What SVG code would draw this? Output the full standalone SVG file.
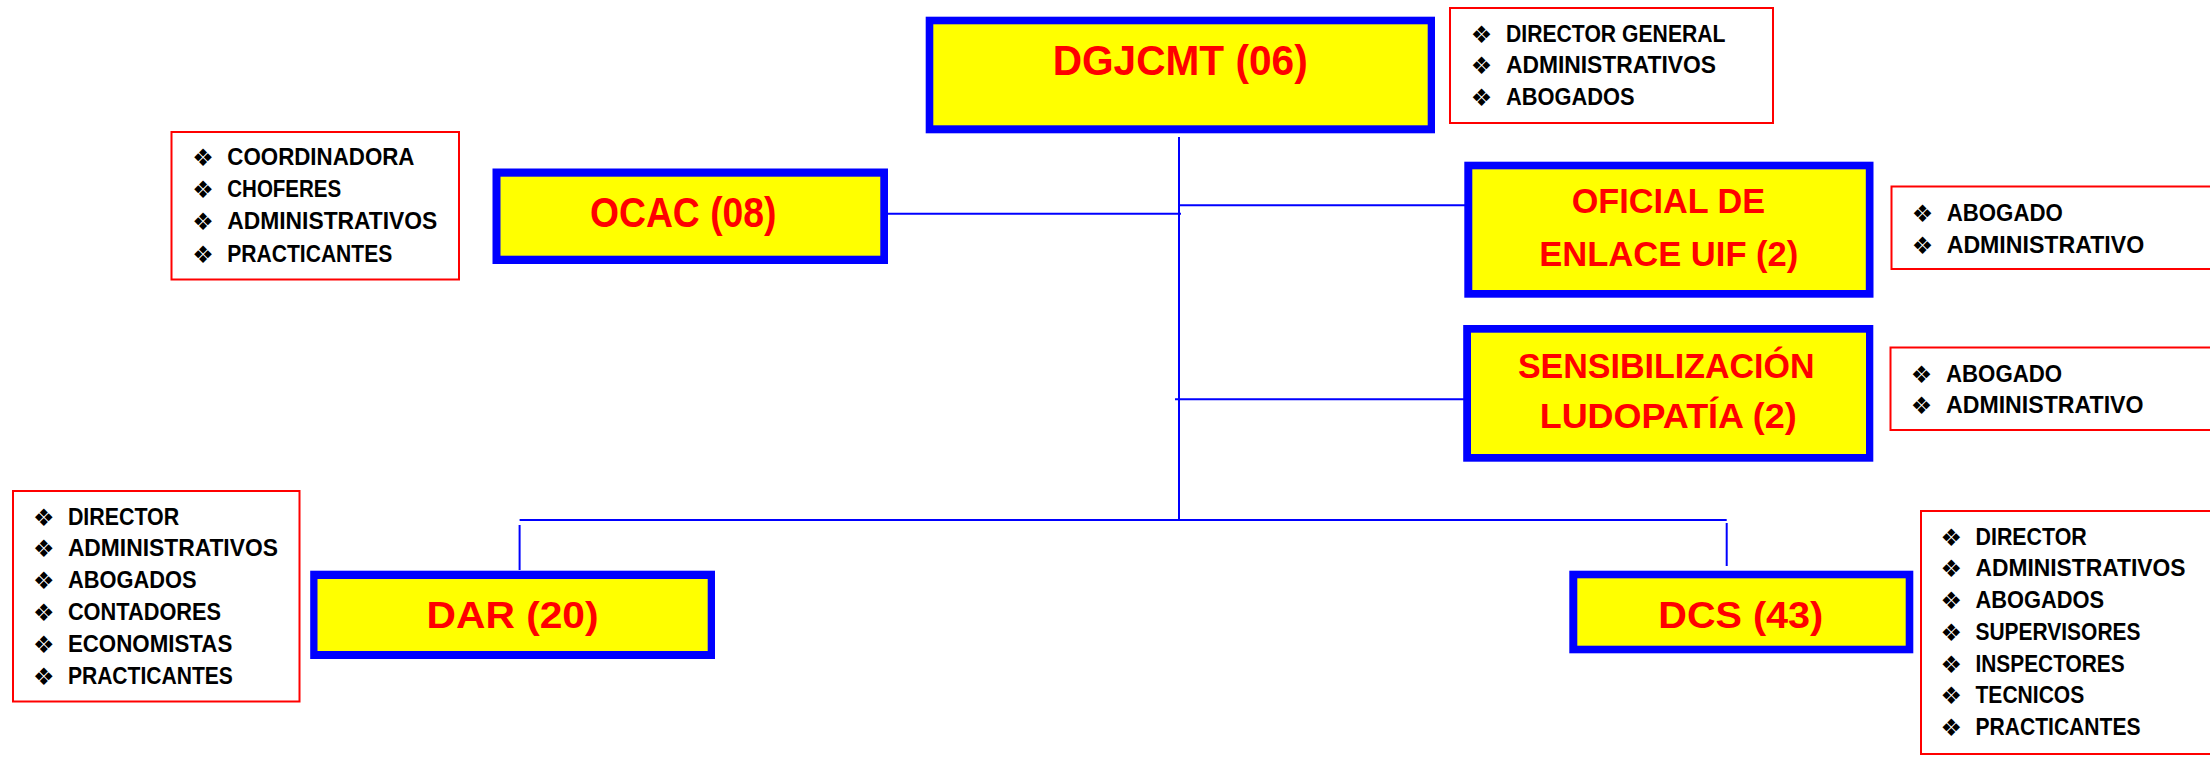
<svg xmlns="http://www.w3.org/2000/svg" width="2210" height="758" viewBox="0 0 2210 758">
<style>
.frame{fill:#0000FF}
.fill{fill:#FFFF00}
.title{font-family:"Liberation Sans",Arial,sans-serif;font-weight:bold;fill:#FF0000}
.t42{font-size:42px}
.t37{font-size:37px}
.t36{font-size:35.5px}
.list{fill:#FFFFFF;stroke:#FF0000;stroke-width:2}
.item{font-family:"Liberation Sans",Arial,sans-serif;font-weight:bold;font-size:23px;fill:#000000}
.bul{font-family:"DejaVu Sans",sans-serif;font-size:24px;fill:#000000}
.conn{stroke:#0000FF;stroke-width:2;fill:none}
</style>
<rect width="2210" height="758" fill="#FFFFFF"/>
<g id="connectors">
<line class="conn" x1="1179" y1="137" x2="1179" y2="521"/>
<line class="conn" x1="887" y1="213.7" x2="1181" y2="213.7"/>
<line class="conn" x1="1179" y1="205.3" x2="1474" y2="205.3"/>
<line class="conn" x1="1175" y1="399.3" x2="1466" y2="399.3"/>
<line class="conn" x1="519.6" y1="520" x2="1726.7" y2="520"/>
<line class="conn" x1="519.6" y1="525" x2="519.6" y2="570"/>
<line class="conn" x1="1726.7" y1="523" x2="1726.7" y2="566"/>
</g>
<g id="dgjcmt">
<rect class="frame" x="925.7" y="16.7" width="509.3" height="116.6"/>
<rect class="fill" x="933.3" y="24.3" width="494.4" height="101"/>
<text class="title t42" x="1052.7" y="75" textLength="255" lengthAdjust="spacingAndGlyphs">DGJCMT (06)</text>
</g>
<g id="dgjcmt-staff">
<rect class="list" x="1450" y="8" width="323" height="115"/>
<text class="bul" x="1470.7" y="42.5">❖</text><text class="item" x="1506" y="41.7" textLength="219.5" lengthAdjust="spacingAndGlyphs">DIRECTOR GENERAL</text>
<text class="bul" x="1470.7" y="74.1">❖</text><text class="item" x="1506" y="73.3" textLength="210" lengthAdjust="spacingAndGlyphs">ADMINISTRATIVOS</text>
<text class="bul" x="1470.7" y="105.8">❖</text><text class="item" x="1506" y="105" textLength="128.6" lengthAdjust="spacingAndGlyphs">ABOGADOS</text>
</g>
<g id="ocac">
<rect class="frame" x="492.5" y="168.5" width="395.5" height="95.5"/>
<rect class="fill" x="500.5" y="176.7" width="379.8" height="79"/>
<text class="title t42" x="590" y="227.3" textLength="186.5" lengthAdjust="spacingAndGlyphs">OCAC (08)</text>
</g>
<g id="ocac-staff">
<rect class="list" x="171.5" y="132" width="287.5" height="147.5"/>
<text class="bul" x="192.3" y="165.8">❖</text><text class="item" x="227.3" y="165" textLength="187.2" lengthAdjust="spacingAndGlyphs">COORDINADORA</text>
<text class="bul" x="192.3" y="198.1">❖</text><text class="item" x="227.3" y="197.3" textLength="113.9" lengthAdjust="spacingAndGlyphs">CHOFERES</text>
<text class="bul" x="192.3" y="230.1">❖</text><text class="item" x="227.3" y="229.3" textLength="210" lengthAdjust="spacingAndGlyphs">ADMINISTRATIVOS</text>
<text class="bul" x="192.3" y="262.5">❖</text><text class="item" x="227.3" y="261.7" textLength="165" lengthAdjust="spacingAndGlyphs">PRACTICANTES</text>
</g>
<g id="oficial-enlace">
<rect class="frame" x="1464.3" y="161.7" width="409.2" height="136"/>
<rect class="fill" x="1472.3" y="169.3" width="393.5" height="120.7"/>
<text class="title t36" x="1571.7" y="213.3" textLength="193.3" lengthAdjust="spacingAndGlyphs">OFICIAL DE</text>
<text class="title t36" x="1539.3" y="265.7" textLength="259" lengthAdjust="spacingAndGlyphs">ENLACE UIF (2)</text>
</g>
<g id="oficial-enlace-staff">
<rect class="list" x="1891.5" y="186.5" width="325" height="82.5"/>
<text class="bul" x="1911.7" y="221.5">❖</text><text class="item" x="1946.7" y="220.7" textLength="116.1" lengthAdjust="spacingAndGlyphs">ABOGADO</text>
<text class="bul" x="1911.7" y="253.5">❖</text><text class="item" x="1946.7" y="252.7" textLength="197.5" lengthAdjust="spacingAndGlyphs">ADMINISTRATIVO</text>
</g>
<g id="sensibilizacion">
<rect class="frame" x="1463.2" y="325" width="410.1" height="136.7"/>
<rect class="fill" x="1471" y="332.7" width="395" height="121.3"/>
<text class="title t36" x="1517.9" y="377.7" textLength="296.6" lengthAdjust="spacingAndGlyphs">SENSIBILIZACIÓN</text>
<text class="title t36" x="1539.7" y="428.3" textLength="257" lengthAdjust="spacingAndGlyphs">LUDOPATÍA (2)</text>
</g>
<g id="sensibilizacion-staff">
<rect class="list" x="1890.5" y="347.5" width="326" height="82.5"/>
<text class="bul" x="1910.7" y="382.5">❖</text><text class="item" x="1946" y="381.7" textLength="116.1" lengthAdjust="spacingAndGlyphs">ABOGADO</text>
<text class="bul" x="1910.7" y="414.1">❖</text><text class="item" x="1946" y="413.3" textLength="197.5" lengthAdjust="spacingAndGlyphs">ADMINISTRATIVO</text>
</g>
<g id="dar">
<rect class="frame" x="310.2" y="570.7" width="404.8" height="88.3"/>
<rect class="fill" x="317.5" y="579" width="390.2" height="72"/>
<text class="title t37" x="426.6" y="628.3" textLength="172" lengthAdjust="spacingAndGlyphs">DAR (20)</text>
</g>
<g id="dar-staff">
<rect class="list" x="13" y="491" width="286.5" height="210.5"/>
<text class="bul" x="32.9" y="525.8">❖</text><text class="item" x="67.9" y="525" textLength="111.3" lengthAdjust="spacingAndGlyphs">DIRECTOR</text>
<text class="bul" x="32.9" y="556.8">❖</text><text class="item" x="67.9" y="556" textLength="210" lengthAdjust="spacingAndGlyphs">ADMINISTRATIVOS</text>
<text class="bul" x="32.9" y="589.1">❖</text><text class="item" x="67.9" y="588.3" textLength="128.6" lengthAdjust="spacingAndGlyphs">ABOGADOS</text>
<text class="bul" x="32.9" y="620.8">❖</text><text class="item" x="67.9" y="620" textLength="153.2" lengthAdjust="spacingAndGlyphs">CONTADORES</text>
<text class="bul" x="32.9" y="652.5">❖</text><text class="item" x="67.9" y="651.7" textLength="164.4" lengthAdjust="spacingAndGlyphs">ECONOMISTAS</text>
<text class="bul" x="32.9" y="684.8">❖</text><text class="item" x="67.9" y="684" textLength="165" lengthAdjust="spacingAndGlyphs">PRACTICANTES</text>
</g>
<g id="dcs">
<rect class="frame" x="1569.3" y="570.7" width="344" height="82.6"/>
<rect class="fill" x="1577.3" y="578.3" width="328.4" height="67.4"/>
<text class="title t37" x="1658.3" y="628.3" textLength="165" lengthAdjust="spacingAndGlyphs">DCS (43)</text>
</g>
<g id="dcs-staff">
<rect class="list" x="1921" y="511" width="295" height="243"/>
<text class="bul" x="1940.6" y="545.8">❖</text><text class="item" x="1975.5" y="545" textLength="111.3" lengthAdjust="spacingAndGlyphs">DIRECTOR</text>
<text class="bul" x="1940.6" y="576.8">❖</text><text class="item" x="1975.5" y="576" textLength="210" lengthAdjust="spacingAndGlyphs">ADMINISTRATIVOS</text>
<text class="bul" x="1940.6" y="609.1">❖</text><text class="item" x="1975.5" y="608.3" textLength="128.6" lengthAdjust="spacingAndGlyphs">ABOGADOS</text>
<text class="bul" x="1940.6" y="640.8">❖</text><text class="item" x="1975.5" y="640" textLength="165" lengthAdjust="spacingAndGlyphs">SUPERVISORES</text>
<text class="bul" x="1940.6" y="672.5">❖</text><text class="item" x="1975.5" y="671.7" textLength="149.2" lengthAdjust="spacingAndGlyphs">INSPECTORES</text>
<text class="bul" x="1940.6" y="704.1">❖</text><text class="item" x="1975.5" y="703.3" textLength="108.8" lengthAdjust="spacingAndGlyphs">TECNICOS</text>
<text class="bul" x="1940.6" y="735.8">❖</text><text class="item" x="1975.5" y="735" textLength="165" lengthAdjust="spacingAndGlyphs">PRACTICANTES</text>
</g>
</svg>
